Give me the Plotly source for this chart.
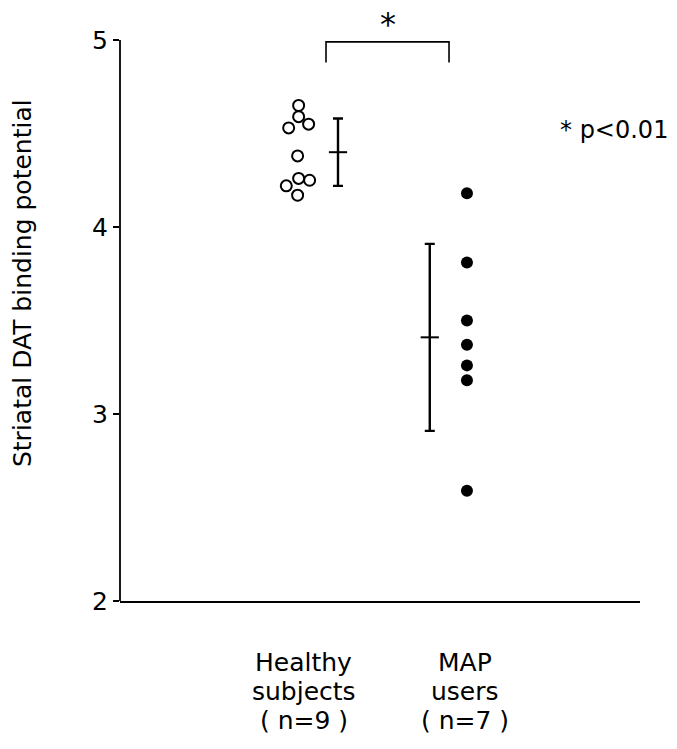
import plotly.graph_objects as go

# ---- data ----
group_labels = ["Healthy<br>subjects<br>( n=9 )", "MAP<br>users<br>( n=7 )"]
healthy_values = [4.65, 4.59, 4.53, 4.55, 4.38, 4.26, 4.22, 4.25, 4.17]
healthy_jitter = [0.004, 0.004, -0.055, 0.063, -0.002, 0.004, -0.069, 0.069, -0.002]
map_values = [4.18, 3.81, 3.50, 3.37, 3.26, 3.18, 2.59]
group_means = [4.40, 3.41]
group_sds = [0.18, 0.50]
y_ticks = [2, 3, 4, 5]
sig_label = "*"
p_label = "* p<0.01"
y_title = "Striatal DAT binding potential"

FONT = "DejaVu Sans"
pos_h, pos_m = 1.0, 2.0
bar_offsets = [0.237, -0.22]
label_x = [pos_h + 0.035, pos_m - 0.01]

fig = go.Figure()

fig.add_trace(go.Scatter(
    x=[pos_h + j for j in healthy_jitter], y=healthy_values, mode="markers",
    marker=dict(symbol="circle", size=11, color="white",
                line=dict(color="black", width=2)),
    showlegend=False, hoverinfo="y"))

fig.add_trace(go.Scatter(
    x=[pos_m] * len(map_values), y=map_values, mode="markers",
    marker=dict(symbol="circle", size=12, color="black",
                line=dict(color="black", width=0)),
    showlegend=False, hoverinfo="y"))

fig.add_trace(go.Scatter(
    x=[pos_h + bar_offsets[0], pos_m + bar_offsets[1]], y=group_means,
    mode="markers",
    marker=dict(symbol="line-ew", size=13, color="black",
                line=dict(color="black", width=2)),
    error_y=dict(type="data", array=group_sds, visible=True,
                 color="black", thickness=2.4, width=5),
    showlegend=False, hoverinfo="y"))

# y axis line from 2 to 5
fig.add_shape(type="line", xref="paper", yref="y", x0=0, x1=0,
              y0=y_ticks[0], y1=y_ticks[-1], line=dict(color="black", width=1.8))

# significance bracket
bx0, bx1 = 1.166, 1.894
by_top, by_bot = 4.99, 4.88
fig.add_shape(type="path",
              path=f"M {bx0} {by_bot} L {bx0} {by_top} L {bx1} {by_top} L {bx1} {by_bot}",
              xref="x", yref="y", line=dict(color="black", width=1.6))
fig.add_annotation(x=(bx0 + bx1) / 2, y=5.085, xref="x", yref="y", text=sig_label,
                   showarrow=False, font=dict(family=FONT, size=32, color="black"))

fig.add_annotation(x=0.842, y=4.52, xref="paper", yref="y", text=p_label,
                   showarrow=False, xanchor="left",
                   font=dict(family=FONT, size=24, color="black"))

# y-axis title
fig.add_annotation(x=0, y=0.529, xref="paper", yref="paper", text=y_title,
                   textangle=-90, showarrow=False, xanchor="center", yanchor="middle",
                   xshift=-98, font=dict(family=FONT, size=25, color="black"))

# group labels, one annotation per line
for xp, lab in zip(label_x, group_labels):
    for i, line in enumerate(lab.split("<br>")):
        fig.add_annotation(x=xp, y=0, xref="x", yref="paper", text=line,
                           showarrow=False, yanchor="middle", yshift=-(61 + 29 * i),
                           font=dict(family=FONT, size=25, color="black"))

fig.update_layout(
    width=677, height=749,
    margin=dict(l=120, r=37, t=0, b=148),
    plot_bgcolor="white", paper_bgcolor="white",
    font=dict(family=FONT, color="black"),
    xaxis=dict(range=[-0.053, 3.024], showgrid=False, zeroline=False,
               showticklabels=False, ticks="", showline=True,
               linecolor="black", linewidth=1.8),
    yaxis=dict(range=[2, 2 + 601 / 187], showgrid=False, zeroline=False,
               tickvals=y_ticks, ticktext=[str(v) for v in y_ticks],
               ticks="outside", ticklen=6, tickwidth=1.6, tickcolor="black",
               showline=False,
               tickfont=dict(family=FONT, size=25, color="black")),
)

fig.write_html("out.html")
